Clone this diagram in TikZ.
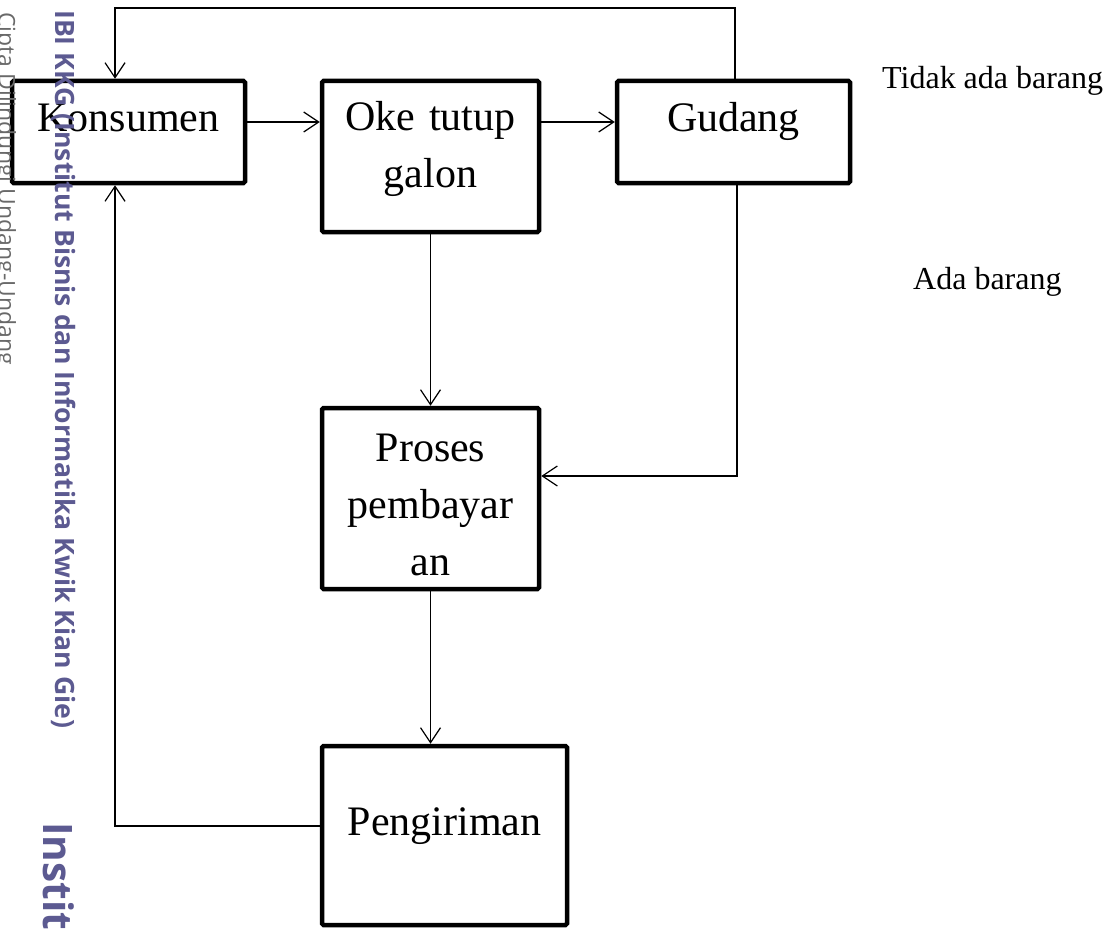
\documentclass[tikz,border=0pt]{standalone}
\usepackage{fontspec}
\setmainfont{Liberation Serif}
\newfontfamily\wmfont{Open Sans}
\usetikzlibrary{arrows.meta}
\definecolor{wmpurple}{RGB}{92,90,145}
\definecolor{wmgray}{RGB}{105,105,105}
\begin{document}
\begin{tikzpicture}[x=1pt,y=-1pt,
  box/.style={draw, line width=4.5pt, rounded corners=1.5pt, inner sep=0pt,
    font=\fontsize{42}{57}\selectfont, text height=30pt, text depth=30pt},
  mbox/.style={box, text width=205pt, align=center},
  arr/.style={line width=1.2pt, -{Straight Barb[length=15pt,width=20pt,line width=1.2pt]}},
  lbl/.style={font=\fontsize{32}{38}\selectfont, inner sep=0pt, anchor=base west},
  wm/.style={rotate=-90, anchor=base west, inner sep=0pt}]
\useasboundingbox (0,0) rectangle (1107,928);

% boxes
\node[box, minimum width=233pt, minimum height=102pt] (kons) at (128.5,132) {Konsumen};
\node[mbox, minimum width=217pt, minimum height=151pt, text height=10pt, text depth=61pt] (oke) at (430.5,156.5) {Oke tutup\\galon};
\node[box, minimum width=233pt, minimum height=102pt] (gud) at (733.5,132) {Gudang};
\node[mbox, minimum width=217pt, minimum height=181pt, text height=5pt, text depth=80pt] (pros) at (430.5,498.5) {Proses\\pembayar\\an};
\node[box, minimum width=245pt, minimum height=179pt] (peng) at (444.5,835.5) {Pengiriman};

% labels
\node[lbl] (tidak) at (882,88.3) {Tidak ada barang};
\node[lbl] (ada) at (913,289) {Ada barang};

% helper coordinates
\coordinate (ke) at ([yshift=10pt]kons.east);
\coordinate (gw) at ([yshift=10pt]gud.west);
\coordinate (tl) at (115,8);
\coordinate (tr) at (735,8);
\coordinate (rt) at (737,476);
\coordinate (bl) at (115,826);

% connectors
\draw[arr] (ke) -- (oke.west |- ke);
\draw[arr] (oke.east |- gw) -- (gw);
\draw[arr] (gud.north -| tr) -- (tr) -- (tl) -- (kons.north -| tl);
\draw[arr] (gud.south -| rt) -- (rt) -- (pros.east |- rt);
\draw[arr] (oke.south) -- (pros.north);
\draw[arr] (pros.south) -- (pros.south |- peng.north);
\draw[arr] (peng.west |- bl) -- (bl) -- (kons.south -| tl);

% watermark
\node[wm, text=wmgray, font=\wmfont\fontsize{23}{28}\selectfont] (wm1) at (-1.5,12) {Cipta Dilindungi Undang-Undang};
\node[wm, text=wmpurple, font=\wmfont\bfseries\fontsize{26.6}{32}\selectfont] (wm2) at (55,10) {IBI KKG (Institut Bisnis dan Informatika Kwik Kian Gie)};
\node[wm, text=wmpurple, font=\wmfont\bfseries\fontsize{40.6}{46}\selectfont] (wm3) at (43,822) {Instit};
\end{tikzpicture}
\end{document}
